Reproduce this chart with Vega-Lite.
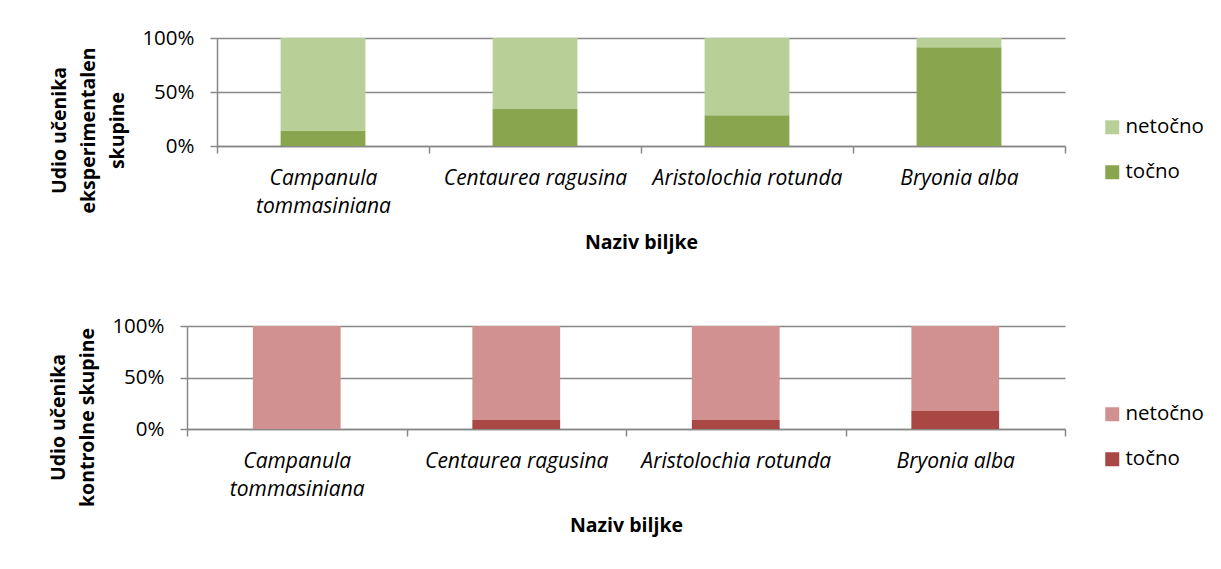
{
  "$schema": "https://vega.github.io/schema/vega-lite/v6.json",
  "padding": {"left": 48, "top": 28, "right": 0, "bottom": 12},
  "background": "white",
  "datasets": {
    "exp": [
      {"biljka": "Campanula tommasiniana", "status": "točno", "broj": 5},
      {"biljka": "Campanula tommasiniana", "status": "netočno", "broj": 30},
      {"biljka": "Centaurea ragusina", "status": "točno", "broj": 12},
      {"biljka": "Centaurea ragusina", "status": "netočno", "broj": 23},
      {"biljka": "Aristolochia rotunda", "status": "točno", "broj": 10},
      {"biljka": "Aristolochia rotunda", "status": "netočno", "broj": 25},
      {"biljka": "Bryonia alba", "status": "točno", "broj": 32},
      {"biljka": "Bryonia alba", "status": "netočno", "broj": 3}
    ],
    "ctrl": [
      {"biljka": "Campanula tommasiniana", "status": "točno", "broj": 0},
      {"biljka": "Campanula tommasiniana", "status": "netočno", "broj": 23},
      {"biljka": "Centaurea ragusina", "status": "točno", "broj": 2},
      {"biljka": "Centaurea ragusina", "status": "netočno", "broj": 21},
      {"biljka": "Aristolochia rotunda", "status": "točno", "broj": 2},
      {"biljka": "Aristolochia rotunda", "status": "netočno", "broj": 21},
      {"biljka": "Bryonia alba", "status": "točno", "broj": 4},
      {"biljka": "Bryonia alba", "status": "netočno", "broj": 19}
    ]
  },
  "config": {
    "font": "Open Sans",
    "view": {"stroke": null},
    "axis": {
      "labelFont": "Open Sans", "labelFontSize": 20.5, "labelColor": "#000000", "labelLimit": 400,
      "titleFont": "Open Sans", "titleFontSize": 19.5, "titleFontWeight": "bold", "titleColor": "#000000",
      "domainColor": "#888888", "tickColor": "#888888", "gridColor": "#888888",
      "domainWidth": 1.5, "tickWidth": 1.5, "gridWidth": 1.5, "tickSize": 7, "gridOpacity": 1
    },
    "legend": {
      "labelFont": "Open Sans", "labelFontSize": 20.5, "labelColor": "#000000", "labelLimit": 300,
      "symbolType": "square", "symbolSize": 196, "symbolStrokeWidth": 0,
      "rowPadding": 24, "labelOffset": 3
    },
    "concat": {"spacing": 64}
  },
  "vconcat": [
    {
      "width": 878,
      "height": 108,
      "data": {"name": "exp"},
      "mark": {"type": "bar", "width": {"band": 0.4}},
      "encoding": {
        "x": {
          "field": "biljka", "type": "nominal", "sort": null,
          "scale": {"paddingInner": 0, "paddingOuter": 0, "range": [30, 878]},
          "axis": {
            "title": "Naziv biljke", "labelAngle": 0, "labelFontStyle": "italic", "labelFontSize": 21,
            "tickBand": "extent", "labelLineHeight": 28, "labelPadding": 14, "titlePadding": 17, "titleX": 454,
            "labelExpr": "datum.label == 'Campanula tommasiniana' ? ['Campanula', 'tommasiniana'] : datum.label"
          }
        },
        "y": {
          "field": "broj", "type": "quantitative", "stack": "normalize",
          "axis": {
            "title": ["Udio učenika", "eksperimentalen", "skupine"],
            "values": [0, 0.5, 1], "format": ".0%", "grid": true, "offset": -30,
            "titleLineHeight": 29, "labelPadding": 16, "titlePadding": 14, "titleY": 92
          }
        },
        "color": {
          "field": "status", "type": "nominal",
          "scale": {"domain": ["netočno", "točno"], "range": ["#B9CF98", "#89A54E"]},
          "legend": {"title": null, "orient": "none", "legendX": 915, "legendY": 79}
        },
        "order": {"field": "status", "sort": "descending"}
      }
    },
    {
      "width": 878,
      "height": 103,
      "data": {"name": "ctrl"},
      "mark": {"type": "bar", "width": {"band": 0.4}},
      "encoding": {
        "x": {
          "field": "biljka", "type": "nominal", "sort": null,
          "scale": {"paddingInner": 0, "paddingOuter": 0},
          "axis": {
            "title": "Naziv biljke", "labelAngle": 0, "labelFontStyle": "italic", "labelFontSize": 21,
            "tickBand": "extent", "labelLineHeight": 28, "labelPadding": 14, "titlePadding": 17,
            "labelExpr": "datum.label == 'Campanula tommasiniana' ? ['Campanula', 'tommasiniana'] : datum.label"
          }
        },
        "y": {
          "field": "broj", "type": "quantitative", "stack": "normalize",
          "axis": {
            "title": ["Udio učenika", "kontrolne skupine"],
            "values": [0, 0.5, 1], "format": ".0%", "grid": true,
            "titleLineHeight": 29, "labelPadding": 16, "titlePadding": 14, "titleY": 91
          }
        },
        "color": {
          "field": "status", "type": "nominal",
          "scale": {"domain": ["netočno", "točno"], "range": ["#D29191", "#A84744"]},
          "legend": {"title": null, "orient": "none", "legendX": 915, "legendY": 78}
        },
        "order": {"field": "status", "sort": "descending"}
      }
    }
  ],
  "resolve": {"scale": {"color": "independent"}}
}
